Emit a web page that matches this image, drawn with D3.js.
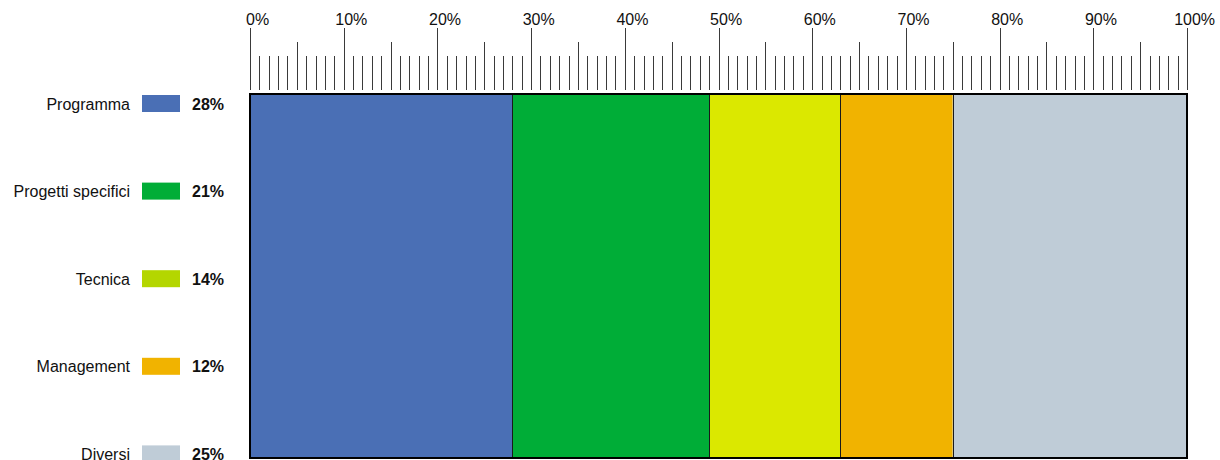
<!DOCTYPE html>
<html>
<head>
<meta charset="utf-8">
<script src="https://cdn.jsdelivr.net/npm/d3@7/dist/d3.min.js"></script>
<style>
  html, body { margin: 0; padding: 0; background: #fff; overflow: hidden; }
  svg { display: block; font-family: "Liberation Sans", Arial, Helvetica, sans-serif; }
</style>
</head>
<body>
<svg id="chart" width="1220" height="460"></svg>
<script>
// Budget split by area, in percent
const categories = ["Programma", "Progetti specifici", "Tecnica", "Management", "Diversi"];
const values = [28, 21, 14, 12, 25];
const barColors = ["#4a6fb5", "#00ad37", "#dbe800", "#f1b300", "#bfccd7"];
const swatchColors = ["#4a6fb5", "#00ad37", "#b4d600", "#f1b300", "#bfccd7"];
const tickLabels = ["0%", "10%", "20%", "30%", "40%", "50%", "60%", "70%", "80%", "90%", "100%"];

const svg = d3.select("#chart");

const x = d3.scaleLinear().domain([0, 100]).range([250, 1187]);
const barTop = 94, barBottom = 458;

// Legend rows
const row = d3.scaleLinear().domain([0, 1]).range([103.5, 191.1]);

// Scale ruler: 1% minor ticks, 5% medium, 10% major
const tickBottom = 90;
const ticks = d3.range(0, 101);
svg.append("g").selectAll("line")
  .data(ticks)
  .join("line")
  .attr("x1", d => Math.round(x(d)) + 0.5)
  .attr("x2", d => Math.round(x(d)) + 0.5)
  .attr("y1", d => d % 10 === 0 ? 28 : d % 5 === 0 ? 42 : 56)
  .attr("y2", tickBottom)
  .attr("stroke", "#3a3a3a")
  .attr("stroke-width", 1);

// Tick labels: the number is centred on its tick, the % sign follows
const fontSize = 16;
const labelG = svg.append("g");
tickLabels.forEach((lab, i) => {
  const v = i * 10;
  const num = lab.replace("%", "");
  const t = labelG.append("text")
    .attr("y", 25)
    .attr("font-size", fontSize)
    .attr("fill", "#111")
    .text(num);
  const w = t.node().getComputedTextLength();
  t.text(lab).attr("x", x(v) - w / 2 + 0.5);
});

// Stacked bar segments
let acc = 0;
const segs = values.map((v, i) => {
  const s = { start: acc, end: acc + v, color: barColors[i] };
  acc += v;
  return s;
});

svg.append("g").selectAll("rect")
  .data(segs)
  .join("rect")
  .attr("x", d => x(d.start))
  .attr("y", barTop)
  .attr("width", d => x(d.end) - x(d.start))
  .attr("height", barBottom - barTop)
  .attr("fill", d => d.color);

// Dividers between segments
svg.append("g").selectAll("line")
  .data(segs.slice(1))
  .join("line")
  .attr("x1", d => Math.round(x(d.start)) + 0.5)
  .attr("x2", d => Math.round(x(d.start)) + 0.5)
  .attr("y1", barTop)
  .attr("y2", barBottom)
  .attr("stroke", "#1a1a1a")
  .attr("stroke-width", 1);

// Outer frame
svg.append("rect")
  .attr("x", x(0))
  .attr("y", barTop)
  .attr("width", x(100) - x(0))
  .attr("height", barBottom - barTop)
  .attr("fill", "none")
  .attr("stroke", "#000")
  .attr("stroke-width", 2);

// Legend
const leg = svg.append("g").selectAll("g")
  .data(categories)
  .join("g")
  .attr("transform", (d, i) => `translate(0,${row(i)})`);

leg.append("text")
  .attr("x", 130)
  .attr("y", 6)
  .attr("text-anchor", "end")
  .attr("font-size", fontSize)
  .attr("fill", "#111")
  .text(d => d);

leg.append("rect")
  .attr("x", 142)
  .attr("y", -8.5)
  .attr("width", 38)
  .attr("height", 17)
  .attr("fill", (d, i) => swatchColors[i]);

leg.append("text")
  .attr("x", 192)
  .attr("y", 6)
  .attr("font-size", fontSize)
  .attr("font-weight", "bold")
  .attr("fill", "#111")
  .text((d, i) => values[i] + "%");
</script>
</body>
</html>
